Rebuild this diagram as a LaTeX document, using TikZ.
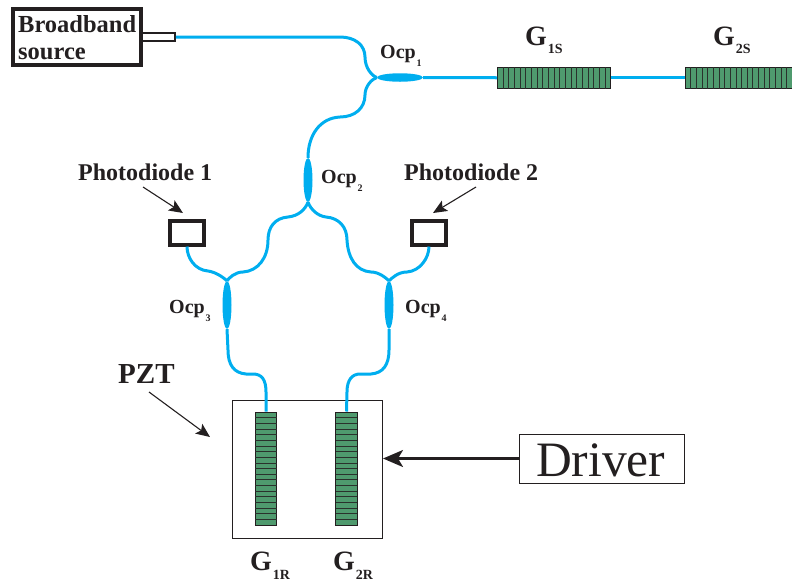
\documentclass[tikz,border=0pt]{standalone}
\usepackage{fontspec}
\setmainfont{Liberation Serif}
\usetikzlibrary{arrows.meta,shapes.geometric}
\definecolor{fib}{HTML}{00AEEF}
\definecolor{grn}{HTML}{4F9A6E}
\definecolor{ink}{HTML}{231F20}
\newcommand{\sublab}[5]{{\fontsize{#1}{#1}\bfseries\selectfont #3}\kern0.8pt\raisebox{-#4pt}{\fontsize{#2}{#2}\bfseries\selectfont #5}}
\tikzset{
  fiber/.style={draw=fib,line width=3pt},
  coupler/.style={ellipse,fill=fib,draw=none,inner sep=0pt},
  grating/.style={rectangle,draw=ink,fill=grn,line width=1pt,inner sep=0pt},
  cell/.style={draw=ink!85!grn,line width=0.7pt},
  heavybox/.style={rectangle,draw=ink,line width=3.1pt,inner sep=0pt},
  thinbox/.style={rectangle,draw=ink,line width=0.8pt,inner sep=0pt},
  txt/.style={anchor=base west,inner sep=0pt,text=ink},
  ptr/.style={draw=ink,line width=1.1pt,-{Stealth[length=14pt,width=12pt,inset=3pt]}},
  bigptr/.style={draw=ink,line width=2.4pt,-{Stealth[length=20pt,width=17pt,inset=5pt]}}
}
\begin{document}
\begin{tikzpicture}[x=1pt,y=-1pt]
\useasboundingbox (0,0) rectangle (792,582);
% boxes
\node[heavybox,minimum width=128pt,minimum height=56pt] (src) at (77,37) {};
\node[rectangle,draw=ink,line width=1.9pt,inner sep=0pt,minimum width=34pt,minimum height=8pt] (stub) at (158,37) {};
\node[heavybox,minimum width=34pt,minimum height=24pt] (pd1) at (187,233) {};
\node[heavybox,minimum width=34pt,minimum height=24pt] (pd2) at (429,233) {};
\node[thinbox,minimum width=150pt,minimum height=138pt] (pzt) at (307,469) {};
\node[thinbox,minimum width=165pt,minimum height=49pt] (drv) at (601.5,458.5) {};
% gratings
\node[grating,minimum width=113pt,minimum height=21.5pt] (g1s) at (554,77.75) {};
\node[grating,minimum width=113pt,minimum height=21.5pt] (g2s) at (741.5,77.75) {};
\node[grating,minimum width=21.5pt,minimum height=113pt] (g1r) at (266,468.5) {};
\node[grating,minimum width=21.5pt,minimum height=113pt] (g2r) at (346.5,468.5) {};
\foreach \i in {1,...,19}{
  \draw[cell] (497.5+\i*5.65,67) -- (497.5+\i*5.65,88.5);
  \draw[cell] (685+\i*5.65,67) -- (685+\i*5.65,88.5);
  \draw[cell] (255.25,412+\i*5.65) -- (276.75,412+\i*5.65);
  \draw[cell] (335.75,412+\i*5.65) -- (357.25,412+\i*5.65);
}
% couplers
\node[coupler,minimum width=46pt,minimum height=8.5pt] (ocp1) at (400,77.5) {};
\node[coupler,minimum width=9pt,minimum height=44pt] (ocp2) at (308,180) {};
\node[coupler,minimum width=9pt,minimum height=48pt] (ocp3) at (227,305) {};
\node[coupler,minimum width=9pt,minimum height=48pt] (ocp4) at (389,305) {};
% fibers
\draw[fiber] (stub.east) -- (340,37) .. controls (355,37) and (365,45) .. (365,57)
   .. controls (365,68) and (372,76) .. (ocp1.west);
\draw[fiber] (ocp1.west) .. controls (372,79) and (365,86) .. (365,95)
   .. controls (365,108) and (355,117) .. (340,117)
   .. controls (320,118) and (308,135) .. (ocp2.north);
\draw[fiber] (ocp1.east) -- (g1s.west);
\draw[fiber] (g1s.east) -- (g2s.west);
\draw[fiber] (ocp2.south) .. controls (305,210) and (298,216) .. (288,217)
   .. controls (275,218) and (268,227) .. (268,240)
   .. controls (268,258) and (258,271) .. (243,272)
   .. controls (235,272) and (229,278) .. (ocp3.north);
\draw[fiber] (ocp2.south) .. controls (311,210) and (318,216) .. (326,217)
   .. controls (339,218) and (347,227) .. (347,240)
   .. controls (348,258) and (356,271) .. (371,272)
   .. controls (379,272) and (386,278) .. (ocp4.north);
\draw[fiber] (pd1.south) .. controls (187,258) and (195,270) .. (208,271)
   .. controls (216,272) and (224,278) .. (ocp3.north);
\draw[fiber] (pd2.south) .. controls (429,258) and (420,271) .. (407,272)
   .. controls (398,272) and (392,278) .. (ocp4.north);
\draw[fiber] (ocp3.south) -- (228,350) .. controls (228,365) and (234,373) .. (246,374)
   -- (253,374) .. controls (262,374) and (266,380) .. (266,392) -- (g1r.north);
\draw[fiber] (ocp4.south) -- (389,350) .. controls (389,365) and (383,373) .. (371,374)
   -- (360,374) .. controls (352,374) and (347,380) .. (347,392) -- (g2r.north);
% pointers
\coordinate (a1) at (143,187);
\coordinate (a1t) at (183,213);
\coordinate (a2) at (476,187);
\coordinate (a2t) at (433,213);
\coordinate (a3) at (149,392);
\coordinate (a3t) at (210,437);
\draw[ptr] (a1) -- (a1t);
\draw[ptr] (a2) -- (a2t);
\draw[ptr] (a3) -- (a3t);
\draw[bigptr] (drv.west) -- (383,458.5);
% labels
\node[txt] (t1) at (18,32) {\fontsize{24.5}{24.5}\bfseries\selectfont Broadband};
\node[txt] (t2) at (18,59) {\fontsize{24.5}{24.5}\bfseries\selectfont source};
\node[txt] (t3) at (78,180) {\fontsize{24}{24}\bfseries\selectfont Photodiode 1};
\node[txt] (t4) at (404,180) {\fontsize{24}{24}\bfseries\selectfont Photodiode 2};
\node[txt] (t5) at (118,383) {\fontsize{29}{29}\bfseries\selectfont PZT};
\node[txt] (t6) at (536,476) {\fontsize{49.5}{49.5}\selectfont Driver};
\node[txt] (l1) at (380,58) {\sublab{20}{10}{Ocp}{8}{1}};
\node[txt] (l2) at (321,183) {\sublab{20}{10}{Ocp}{8}{2}};
\node[txt] (l3) at (169,313) {\sublab{20}{10}{Ocp}{8}{3}};
\node[txt] (l4) at (405,313) {\sublab{20}{10}{Ocp}{8}{4}};
\node[txt] (g1) at (525,45) {\sublab{28}{14}{G}{8}{1S}};
\node[txt] (g2) at (713,45) {\sublab{28}{14}{G}{8}{2S}};
\node[txt] (g3) at (250,570) {\sublab{28}{14}{G}{9}{1R}};
\node[txt] (g4) at (333,570) {\sublab{28}{14}{G}{9}{2R}};
\end{tikzpicture}
\end{document}
